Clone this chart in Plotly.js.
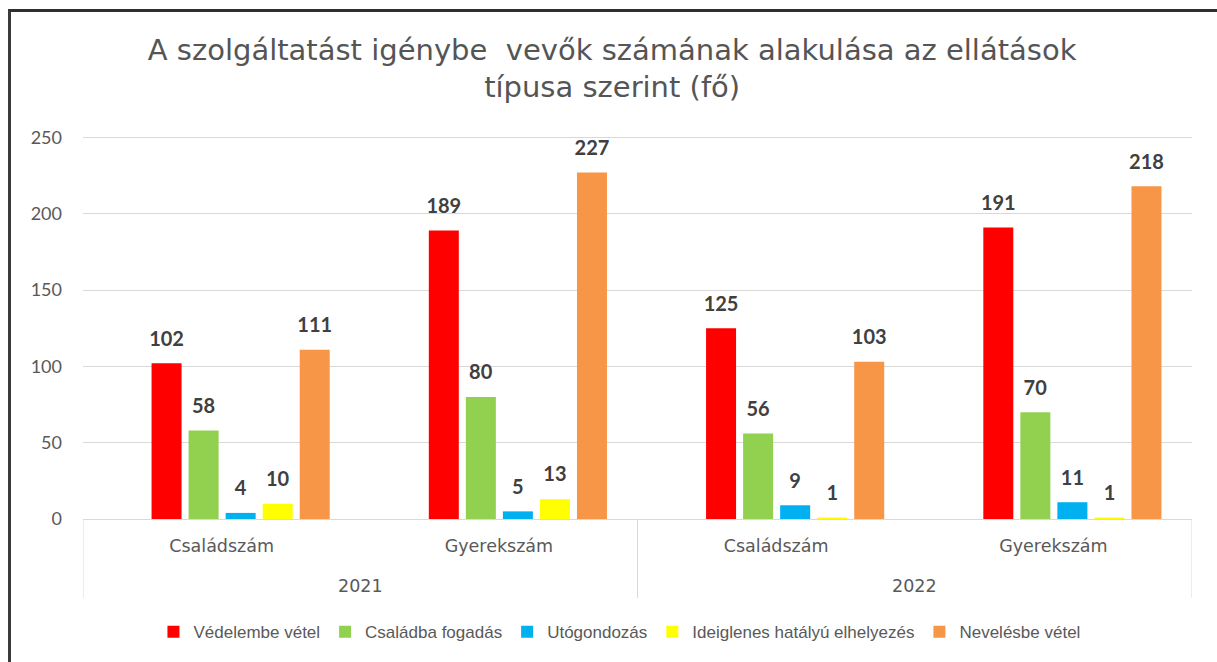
<!DOCTYPE html>
<html>
<head>
<meta charset="utf-8">
<script src="https://cdn.plot.ly/plotly-3.0.1.min.js"></script>
<style>
  html, body { margin: 0; padding: 0; background: #ffffff; }
  #wrap { position: relative; width: 1217px; height: 662px; overflow: hidden; }
  #chart { width: 1217px; height: 662px; }
  #frame { position: absolute; left: 8px; top: 9px; width: 1300px; height: 700px;
           border-top: 3px solid #2f2f2f; border-left: 3px solid #3a3a3a; pointer-events: none; }
</style>
</head>
<body>
<div id="wrap">
  <div id="chart"></div>
  <div id="frame"></div>
</div>
<script>
// ---- data ----
const years = ['2021', '2021', '2022', '2022'];
const kinds = ['Családszám', 'Gyerekszám', 'Családszám', 'Gyerekszám'];

const seriesNames = ['Védelembe vétel', 'Családba fogadás', 'Utógondozás',
                     'Ideiglenes hatályú elhelyezés', 'Nevelésbe vétel'];
const vedelembeVetel = [102, 189, 125, 191];
const csaladbaFogadas = [58, 80, 56, 70];
const utogondozas = [4, 5, 9, 11];
const ideiglenes = [10, 13, 1, 1];
const nevelesbeVetel = [111, 227, 103, 218];
const seriesValues = [vedelembeVetel, csaladbaFogadas, utogondozas, ideiglenes, nevelesbeVetel];
const seriesColors = ['#FF0000', '#92D050', '#00B0F0', '#FFFF00', '#F79646'];

// ---- traces ----
const LABEL_PAD = 7; // transparent spacer (axis units) lifting the value labels above each bar
const traces = [];
seriesValues.forEach((vals, i) => {
  traces.push({
    type: 'bar', name: seriesNames[i], x: [years, kinds], y: vals, xaxis: 'x2',
    offsetgroup: 'g' + i, marker: { color: seriesColors[i] }, hoverinfo: 'y+name'
  });
});
seriesValues.forEach((vals, i) => {
  traces.push({
    type: 'bar', name: seriesNames[i] + ' címke', x: [years, kinds],
    y: vals.map(() => LABEL_PAD), base: vals, xaxis: 'x2', offsetgroup: 'g' + i,
    marker: { color: 'rgba(0,0,0,0)' }, text: vals.map(String), textposition: 'outside',
    constraintext: 'none', cliponaxis: false,
    textfont: { family: 'Lato, "Open Sans", sans-serif', size: 20, color: '#404040', weight: 'bold' },
    showlegend: false, hoverinfo: 'skip'
  });
});
// carrier trace for the visible category axis (no visible marks)
const catIndex = kinds.map((_, i) => i);
traces.push({
  type: 'scatter', mode: 'markers', x: catIndex, y: catIndex.map(() => null),
  xaxis: 'x', marker: { opacity: 0 }, showlegend: false, hoverinfo: 'skip'
});

// ---- year row and group dividers of the two-level category axis ----
const PLOT_H = 662 - 136 - 143;
const axisFont = { family: '"DejaVu Sans", "Liberation Sans", sans-serif', size: 17.5, color: '#595959' };
const yearLabels = [];
const boundaries = [-0.5];
[...new Set(years)].forEach(yr => {
  const idx = catIndex.filter(i => years[i] === yr);
  yearLabels.push({
    text: yr, xref: 'x', x: (idx[0] + idx[idx.length - 1]) / 2,
    yref: 'paper', y: -67 / PLOT_H, yanchor: 'middle', showarrow: false,
    font: axisFont
  });
  boundaries.push(idx[idx.length - 1] + 0.5);
});
const dividers = boundaries.map(b => ({
  type: 'line', xref: 'x', x0: b, x1: b, yref: 'paper', y0: 0, y1: -79 / PLOT_H,
  line: { color: '#D9D9D9', width: 1 }
}));

const SHIFT = 0.0686; // bars sit slightly right of the label centres in the original
const layout = {
  width: 1217, height: 662, paper_bgcolor: '#ffffff', plot_bgcolor: '#ffffff',
  margin: { l: 83, r: 25, t: 136, b: 143, pad: 0 },
  barmode: 'group', bargap: 0.332, bargroupgap: 0.19,
  title: {
    text: 'A szolgáltatást igénybe  vevők számának alakulása az ellátások<br>típusa szerint (fő)',
    font: { family: '"DejaVu Sans", "Liberation Sans", sans-serif', size: 29, color: '#555555' },
    x: 0.503, xref: 'container', xanchor: 'center', y: 0.91, yref: 'container', yanchor: 'middle'
  },
  xaxis: {
    type: 'linear', range: [-0.5, 3.5], tickvals: catIndex, ticktext: kinds,
    showline: true, linecolor: '#D9D9D9', linewidth: 1,
    showgrid: false, zeroline: false, ticks: '', ticklabelstandoff: 11,
    tickfont: axisFont
  },
  xaxis2: { type: 'multicategory', overlaying: 'x', anchor: 'y', range: [-0.5 - SHIFT, 3.5 - SHIFT], visible: false },
  yaxis: {
    range: [0, 251], tickvals: [0, 50, 100, 150, 200, 250], showgrid: true, gridcolor: '#D9D9D9',
    gridwidth: 1, zeroline: false, ticks: '', ticklabelstandoff: 20,
    tickfont: { family: 'Lato, "Open Sans", sans-serif', size: 18, color: '#595959' }
  },
  legend: {
    orientation: 'h', xref: 'container', x: 0.509, xanchor: 'center',
    yref: 'container', y: 0.045, yanchor: 'middle',
    font: { family: '"Liberation Sans", Arial, sans-serif', size: 17, color: '#595959' },
    itemwidth: 30, traceorder: 'normal'
  },
  annotations: yearLabels,
  shapes: dividers,
  showlegend: true
};

Plotly.newPlot('chart', traces, layout, { displayModeBar: false, staticPlot: true });
</script>
</body>
</html>
